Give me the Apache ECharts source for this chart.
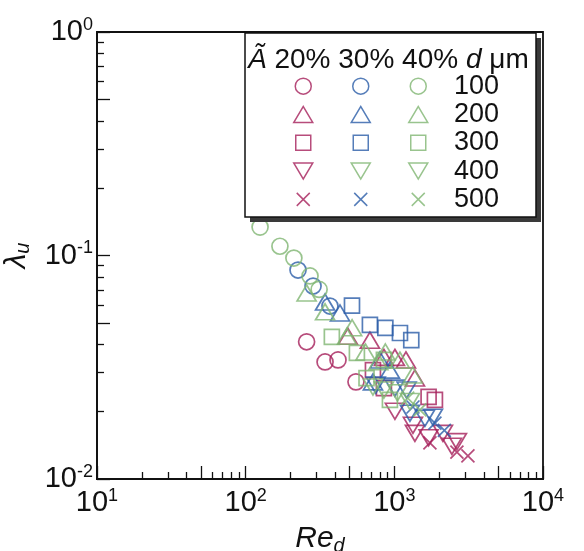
<!DOCTYPE html>
<html>
<head>
<meta charset="utf-8">
<title>lambda_u vs Re_d</title>
<script src="https://cdn.jsdelivr.net/npm/echarts@6/dist/echarts.min.js"></script>
<style>
  html, body { margin: 0; padding: 0; background: #fff; }
  #main-chart { width: 584px; height: 551px; }
</style>
</head>
<body>
<div id="main-chart"></div>
<script>
const FONT = '"Liberation Sans", Arial, sans-serif';

// legend categories
const concentrations = ['20%', '30%', '40%'];
const diameters = ['100', '200', '300', '400', '500'];

// data: [Re_d, lambda_u]
const a20d100 = [[257, 0.0411], [342, 0.0334], [418, 0.0341], [552, 0.0272]];
const a20d200 = [[487, 0.0435], [685, 0.0418], [851, 0.0350], [1009, 0.0350], [1197, 0.0341], [1376, 0.0283]];
const a20d300 = [[718, 0.0307], [851, 0.0255], [1700, 0.0233], [1875, 0.0226]];
const a20d400 = [[1009, 0.0201], [1334, 0.0174], [1376, 0.0160], [1700, 0.0153], [2123, 0.0160], [2440, 0.0140], [2636, 0.0147]];
const a20d500 = [[1735, 0.0145], [2636, 0.0132], [3126, 0.0127]];
const a30d100 = [[225, 0.0861], [284, 0.0730], [369, 0.0594]];
const a30d200 = [[342, 0.0619], [431, 0.0553], [718, 0.0272], [800, 0.0341], [934, 0.0307]];
const a30d300 = [[519, 0.0597], [685, 0.0489], [870, 0.0474], [1091, 0.0450], [1300, 0.0418]];
const a30d400 = [[750, 0.0263], [1009, 0.0255], [1210, 0.0250], [1273, 0.0197], [1606, 0.0187], [1818, 0.0189]];
const a30d500 = [[1334, 0.0210], [1875, 0.0178], [2170, 0.0165]];
const a40d100 = [[125, 0.134], [170, 0.110], [211, 0.0974], [271, 0.081], [312, 0.0705]];
const a40d200 = [[257, 0.068], [342, 0.056], [480, 0.0435], [520, 0.0475], [640, 0.037], [780, 0.0335], [870, 0.037], [1090, 0.034], [1330, 0.0292]];
const a40d300 = [[380, 0.0432], [560, 0.0367], [650, 0.0283], [851, 0.0341], [934, 0.0226]];
const a40d400 = [[718, 0.0258], [851, 0.0250], [1050, 0.0243], [1273, 0.0222]];
const a40d500 = [[1230, 0.0230], [1486, 0.0204]];

const seriesValues = [
    [a20d100, a20d200, a20d300, a20d400, a20d500],
    [a30d100, a30d200, a30d300, a30d400, a30d500],
    [a40d100, a40d200, a40d300, a40d400, a40d500]
];

// tick positions
const xLabelValues = [10, 100, 1000, 10000];
const xMajorTicks = [10, 50, 100, 500, 1000, 5000, 10000];
const xMinorTicks = [20, 30, 40, 60, 70, 80, 90, 200, 300, 400, 600, 700, 800, 900,
    2000, 3000, 4000, 6000, 7000, 8000, 9000];
const yLabelValues = [0.01, 0.1, 1];
const yMajorTicks = [0.01, 0.05, 0.1, 0.5, 1];
const yMinorTicks = [0.02, 0.03, 0.04, 0.06, 0.07, 0.08, 0.09, 0.2, 0.3, 0.4, 0.6, 0.7, 0.8, 0.9];

const colors = ['#a51f5a', '#2a5da8', '#7fb572'];
// the original legend shows the 30% / 400 symbol in green
const legendColors = [
    [colors[0], colors[0], colors[0], colors[0], colors[0]],
    [colors[1], colors[1], colors[1], colors[2], colors[1]],
    [colors[2], colors[2], colors[2], colors[2], colors[2]]
];
const symbols = [
    { symbol: 'circle', size: 16, rotate: 0 },
    { symbol: 'triangle', size: [19, 16], rotate: 0 },
    { symbol: 'rect', size: 15, rotate: 0 },
    { symbol: 'triangle', size: [19, 16], rotate: 180 },
    { symbol: 'path://M0,0L10,10M10,0L0,10', size: 13, rotate: 0 }
];

let chart = echarts.init(document.getElementById('main-chart'), null, { renderer: 'canvas' });

function powLabel(v) {
    const e = Math.round(Math.log10(v));
    return '{b|10}{s|' + e + '}';
}
const powRich = {
    b: { fontSize: 29, lineHeight: 32, fontFamily: FONT, color: '#111' },
    s: { fontSize: 18, verticalAlign: 'top', fontFamily: FONT, color: '#111' }
};
const nameRich = {
    i: { fontSize: 30, lineHeight: 32, verticalAlign: 'top', fontStyle: 'italic', fontFamily: FONT, color: '#111' },
    s: { fontSize: 20, verticalAlign: 'bottom', fontStyle: 'italic', fontFamily: FONT, color: '#111' }
};
const axisColor = '#111';

let series = [];
concentrations.forEach((c, ci) => {
    diameters.forEach((d, di) => {
        const s = symbols[di];
        series.push({
            type: 'scatter',
            name: c + ' ' + d + ' μm',
            xAxisIndex: 0,
            yAxisIndex: 0,
            symbol: s.symbol,
            symbolSize: s.size,
            symbolRotate: s.rotate,
            itemStyle: { color: 'rgba(0,0,0,0)', borderColor: colors[ci], borderWidth: 1.7 },
            emphasis: { disabled: true },
            z: 2,
            data: seriesValues[ci][di]
        });
    });
});

// legend symbols in their own small grid
let legendItems = [];
concentrations.forEach((c, ci) => {
    diameters.forEach((d, di) => {
        const s = symbols[di];
        legendItems.push({
            value: [c, d],
            symbol: s.symbol,
            symbolSize: s.size,
            symbolRotate: s.rotate,
            itemStyle: { color: 'rgba(0,0,0,0)', borderColor: legendColors[ci][di], borderWidth: 1.5 }
        });
    });
});
series.push({
    type: 'scatter',
    xAxisIndex: 2,
    yAxisIndex: 2,
    z: 10,
    emphasis: { disabled: true },
    data: legendItems
});

chart.setOption({
    backgroundColor: '#fff',
    animation: false,
    grid: [
        { left: 97, top: 32, width: 446, height: 447, outerBoundsMode: 'none', containLabel: false,
          show: true, borderColor: axisColor, borderWidth: 1.8 },
        { left: 274.5, top: 72, width: 172.5, height: 141.5, outerBoundsMode: 'none', containLabel: false, show: false }
    ],
    xAxis: [
        {
            type: 'log', gridIndex: 0, logBase: 10, min: 10, max: 10000, position: 'bottom',
            axisLine: { show: true, lineStyle: { color: axisColor, width: 1.8 } },
            axisTick: { show: true, inside: true, length: 13, lineStyle: { color: axisColor, width: 1.3 }, customValues: xMajorTicks },
            axisLabel: { customValues: xLabelValues, formatter: powLabel, rich: powRich, margin: 8 },
            splitLine: { show: false },
            name: '{i|Re}{s|d}', nameLocation: 'middle', nameGap: 45,
            nameTextStyle: { rich: nameRich }
        },
        {
            type: 'log', gridIndex: 0, logBase: 10, min: 10, max: 10000, position: 'bottom',
            axisLine: { show: false },
            axisTick: { show: true, inside: true, length: 7, lineStyle: { color: axisColor, width: 1.3 }, customValues: xMinorTicks },
            axisLabel: { show: false },
            splitLine: { show: false }
        },
        { type: 'category', gridIndex: 1, data: concentrations, show: false }
    ],
    yAxis: [
        {
            type: 'log', gridIndex: 0, logBase: 10, min: 0.01, max: 1, position: 'left',
            axisLine: { show: true, lineStyle: { color: axisColor, width: 1.8 } },
            axisTick: { show: true, inside: true, length: 13, lineStyle: { color: axisColor, width: 1.3 }, customValues: yMajorTicks },
            axisLabel: { customValues: yLabelValues, formatter: powLabel, rich: powRich, margin: 4 },
            splitLine: { show: false },
            name: '{i|λ}{s|u}', nameLocation: 'middle', nameGap: 56, nameRotate: 90,
            nameTextStyle: { rich: nameRich }
        },
        {
            type: 'log', gridIndex: 0, logBase: 10, min: 0.01, max: 1, position: 'left',
            axisLine: { show: false },
            axisTick: { show: true, inside: true, length: 7, lineStyle: { color: axisColor, width: 1.3 }, customValues: yMinorTicks },
            axisLabel: { show: false },
            splitLine: { show: false }
        },
        {
            type: 'category', gridIndex: 1, data: diameters, inverse: true, position: 'right', z: 10,
            axisLine: { show: false },
            axisTick: { show: false },
            splitLine: { show: false },
            axisLabel: { interval: 0, fontSize: 27, color: '#111', margin: 7, fontFamily: FONT }
        }
    ],
    graphic: {
        elements: [
            { type: 'rect', z: 5, shape: { x: 250, y: 38, width: 291, height: 184 }, style: { fill: '#3a3a3a' } },
            { type: 'rect', z: 6, shape: { x: 245, y: 33, width: 291, height: 184 }, style: { fill: '#fff', stroke: '#111', lineWidth: 1.5 } },
            {
                type: 'text', z: 7, x: 248, y: 60,
                style: {
                    text: '{i|Ã} 20% 30% 40% {i|d} μm',
                    fontSize: 28, fontFamily: FONT, fill: '#111', verticalAlign: 'middle',
                    rich: { i: { fontSize: 28, fontStyle: 'italic', fontFamily: FONT, fill: '#111' } }
                }
            }
        ]
    },
    series: series
});

window.addEventListener('resize', function () {
    chart.resize();
});
</script>
</body>
</html>
